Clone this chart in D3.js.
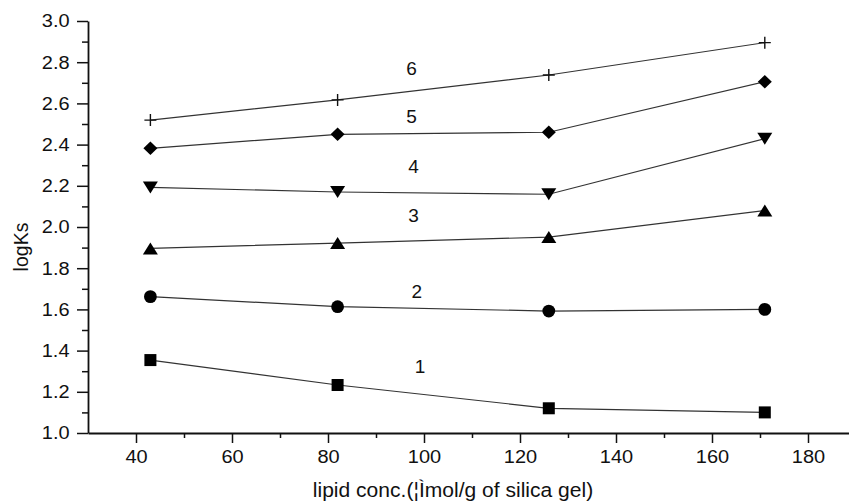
<!DOCTYPE html>
<html><head><meta charset="utf-8">
<script src="https://cdn.jsdelivr.net/npm/d3@7"></script>
<style>
body{margin:0;background:#fff;}
svg{display:block;}
text{font-family:"Liberation Sans",Arial,sans-serif;fill:#111;}
.sx{transform-box:fill-box;transform-origin:center;transform:scaleX(1.08);}
</style></head>
<body><svg id="c" width="849" height="503"></svg>
<script>
const xValues = [43, 82, 126, 171];
const series1 = [1.354, 1.233, 1.120, 1.100];
const series2 = [1.662, 1.613, 1.592, 1.600];
const series3 = [1.896, 1.922, 1.951, 2.080];
const series4 = [2.192, 2.170, 2.159, 2.429];
const series5 = [2.382, 2.450, 2.460, 2.705];
const series6 = [2.519, 2.617, 2.738, 2.895];
const seriesNames = ["1", "2", "3", "4", "5", "6"];
const seriesMarkers = ["square", "circle", "triUp", "triDown", "diamond", "plus"];
const labelX = [99.2, 98.5, 97.8, 97.8, 97.4, 97.4];
const labelY = [1.322, 1.686, 2.058, 2.293, 2.535, 2.770];
const xMajorTicks = [40, 60, 80, 100, 120, 140, 160, 180];
const xMinorTicks = [50, 70, 90, 110, 130, 150, 170];
const yMajorTicks = [1.0, 1.2, 1.4, 1.6, 1.8, 2.0, 2.2, 2.4, 2.6, 2.8, 3.0];
const yMinorTicks = [1.1, 1.3, 1.5, 1.7, 1.9, 2.1, 2.3, 2.5, 2.7, 2.9];
const xTitle = "lipid conc.(¦Ìmol/g of silica gel)";
const yTitle = "logKs";

const allSeries = [series1, series2, series3, series4, series5, series6];
const svg = d3.select("#c");
const x = d3.scaleLinear().domain([30, 190]).range([88, 856]);
const y = d3.scaleLinear().domain([1.0, 3.0]).range([433, 21]);

const gx = svg.append("g").attr("transform", "translate(0,433)");
gx.call(d3.axisBottom(x).tickValues(xMinorTicks).tickSize(5).tickFormat(""));
gx.select(".domain").remove();
const gx2 = svg.append("g").attr("transform", "translate(0,433)");
gx2.call(d3.axisBottom(x).tickValues(xMajorTicks).tickSize(10).tickSizeOuter(0).tickPadding(7).tickFormat(d3.format("d")));
const gy = svg.append("g").attr("transform", "translate(88,0)");
gy.call(d3.axisLeft(y).tickValues(yMinorTicks).tickSize(6).tickFormat(""));
gy.select(".domain").remove();
const gy2 = svg.append("g").attr("transform", "translate(88,0)");
gy2.call(d3.axisLeft(y).tickValues(yMajorTicks).tickSize(11).tickSizeOuter(0).tickPadding(7).tickFormat(d3.format(".1f")));
svg.selectAll(".domain").attr("stroke", "#111").attr("stroke-width", 1.8);
svg.selectAll(".tick line").attr("stroke", "#111").attr("stroke-width", 1.5);
svg.selectAll(".tick text").attr("font-size", 18.5).attr("fill", "#111")
  .attr("font-family", "Liberation Sans, Arial, sans-serif").attr("class", "sx");
gy2.selectAll(".tick text").attr("dx", "-1.5");

const line = d3.line().x((d, i) => x(xValues[i])).y(d => y(d));
allSeries.forEach(s => {
  svg.append("path").datum(s).attr("d", line)
    .attr("fill", "none").attr("stroke", "#333").attr("stroke-width", 1.2);
});

function drawMarker(g, type, cx, cy) {
  if (type === "square") {
    g.append("rect").attr("x", cx - 6).attr("y", cy - 6).attr("width", 12).attr("height", 12).attr("fill", "#000");
  } else if (type === "circle") {
    g.append("circle").attr("cx", cx).attr("cy", cy).attr("r", 6.4).attr("fill", "#000");
  } else if (type === "triUp") {
    g.append("path").attr("d", `M${cx},${cy - 6}L${cx + 7.5},${cy + 6}L${cx - 7.5},${cy + 6}Z`).attr("fill", "#000");
  } else if (type === "triDown") {
    g.append("path").attr("d", `M${cx - 7.5},${cy - 6}L${cx + 7.5},${cy - 6}L${cx},${cy + 6}Z`).attr("fill", "#000");
  } else if (type === "diamond") {
    g.append("path").attr("d", `M${cx},${cy - 6.8}L${cx + 7},${cy}L${cx},${cy + 6.8}L${cx - 7},${cy}Z`).attr("fill", "#000");
  } else if (type === "plus") {
    g.append("path").attr("d", `M${cx - 6},${cy}H${cx + 6}M${cx},${cy - 6}V${cy + 6}`)
      .attr("stroke", "#111").attr("stroke-width", 1.4).attr("fill", "none");
  }
}
const mg = svg.append("g");
allSeries.forEach((s, k) => {
  s.forEach((v, i) => drawMarker(mg, seriesMarkers[k], x(xValues[i]), y(v)));
});

seriesNames.forEach((n, k) => {
  svg.append("text").attr("x", x(labelX[k])).attr("y", y(labelY[k]))
    .attr("text-anchor", "middle").attr("dominant-baseline", "central")
    .attr("font-size", 19).text(n);
});

svg.append("text").attr("x", 453).attr("y", 497).attr("text-anchor", "middle")
  .attr("font-size", 19.5).attr("class", "sx").text(xTitle);
svg.append("text").attr("transform", "translate(28,247) rotate(-90)").attr("text-anchor", "middle")
  .attr("font-size", 19.5).text(yTitle);
</script></body></html>
